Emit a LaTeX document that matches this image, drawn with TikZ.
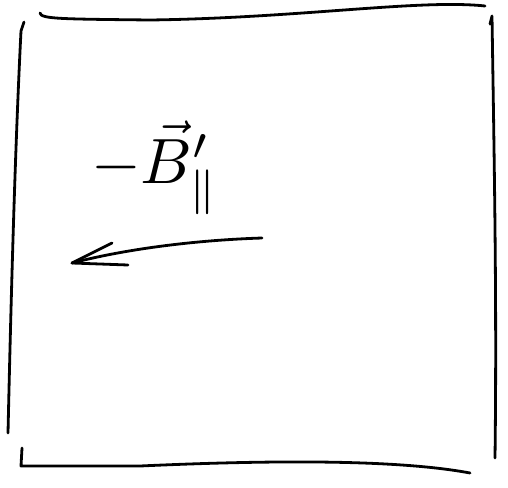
\documentclass[tikz,border=0pt]{standalone}
\usepackage{amsmath,amssymb,amsfonts}

\begin{document}
\begin{tikzpicture}[x=1pt,y=-1pt,line cap=round,line join=round]

\tikzset{pen/.style={line width=2.8pt,black}}

\useasboundingbox (0,0) rectangle (508,487);

% frame
\draw[pen] (40,13) .. controls (41,19) and (60,19) .. (150,20) .. controls (300,18) and (420,-1) .. (485,6);
\draw[pen] (24,22) -- (21,31) .. controls (15,150) and (11,300) .. (8,433);
\draw[pen] (490,24) -- (492,16) .. controls (494,150) and (497,300) .. (495,458);
\draw[pen] (22,448) -- (21,466) -- (140,466) .. controls (250,461) and (390,458) .. (470,473);

% label
\node[scale = 6.4] (field) at (155,168) {$-\vec{B}'_{\parallel}$};

% arrow
\coordinate (tail) at (262,238);
\coordinate (head) at (72,263);
\draw[pen] (tail) .. controls (200,240) and (130,248) .. (head);
\draw[pen] (112,243) -- (head) -- (128,265);

\end{tikzpicture}
\end{document}
